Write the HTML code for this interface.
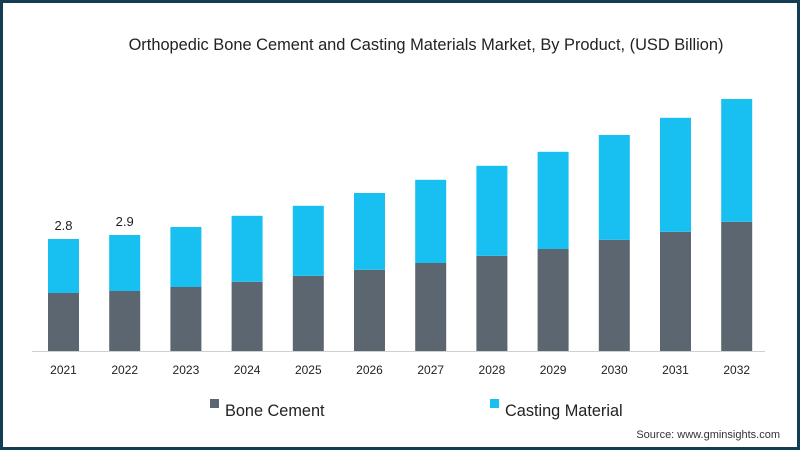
<!DOCTYPE html>
<html><head><meta charset="utf-8"><style>
body{margin:0;width:800px;height:450px;overflow:hidden;background:#fff;font-family:"Liberation Sans",sans-serif}
#frame{position:absolute;left:0;top:0;width:794px;height:444px;border:3px solid #123d52;background:#fff}
</style></head><body>
<div id="frame"></div>
<svg id="chart" width="800" height="450" style="position:absolute;left:0;top:0">
<text x="426" y="50" text-anchor="middle" font-size="16.4" fill="#222">Orthopedic Bone Cement and Casting Materials Market, By Product, (USD Billion)</text>
<line x1="32" y1="351.5" x2="765" y2="351.5" stroke="#d0d0d0" stroke-width="1"/>
<g id="bars"></g>
<rect x="210" y="399" width="9" height="9" fill="#5b6670"/>
<text x="225" y="416" font-size="16.3" fill="#222">Bone Cement</text>
<rect x="490" y="399" width="9" height="9" fill="#17c0f0"/>
<text x="505" y="416" font-size="16.3" fill="#222">Casting Material</text>
<text x="780" y="438" text-anchor="end" font-size="11" fill="#333">Source: www.gminsights.com</text>
</svg>
<script>
const years=["2021","2022","2023","2024","2025","2026","2027","2028","2029","2030","2031","2032"];
const boneCement=[1.45,1.5,1.6,1.73,1.88,2.03,2.2,2.38,2.55,2.78,2.98,3.23];
const castingMaterial=[1.35,1.4,1.5,1.65,1.75,1.92,2.08,2.25,2.43,2.62,2.85,3.07];
const totalLabels=["2.8","2.9","","","","","","","","","",""];
const base=351, scale=40, x0=48, step=61.2, bw=31;
const ns="http://www.w3.org/2000/svg";
const g=document.getElementById('bars');
function y(v){return base-v*scale;}
function xPos(i){return x0+i*step;}
years.forEach((yr,i)=>{
  const x=xPos(i);
  const r1=document.createElementNS(ns,'rect');
  r1.setAttribute('x',x);r1.setAttribute('width',bw);
  r1.setAttribute('y',y(boneCement[i]));r1.setAttribute('height',base-y(boneCement[i]));
  r1.setAttribute('fill','#5b6670');
  
  
  g.appendChild(r1);
  const tot=boneCement[i]+castingMaterial[i];
  const r2=document.createElementNS(ns,'rect');
  r2.setAttribute('x',x);r2.setAttribute('width',bw);
  r2.setAttribute('y',y(tot));r2.setAttribute('height',y(boneCement[i])-y(tot));
  r2.setAttribute('fill','#17c0f0');
  
  
  g.appendChild(r2);
  const t=document.createElementNS(ns,'text');
  t.setAttribute('x',x+bw/2);t.setAttribute('y',374);t.setAttribute('text-anchor','middle');
  t.setAttribute('font-size','12');t.setAttribute('fill','#222');t.textContent=yr;
  
  
  g.appendChild(t);
  if(totalLabels[i]){
    const l=document.createElementNS(ns,'text');
    l.setAttribute('x',x+bw/2);l.setAttribute('y',y(tot)-9);l.setAttribute('text-anchor','middle');
    l.setAttribute('font-size','13');l.setAttribute('fill','#222');l.textContent=totalLabels[i];
    
    
    g.appendChild(l);
  }
});
</script>
</body></html>
